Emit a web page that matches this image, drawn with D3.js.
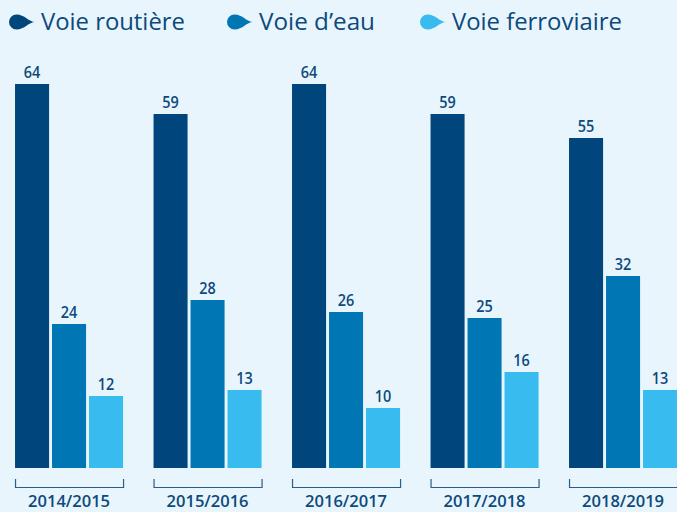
<!DOCTYPE html>
<html><head><meta charset="utf-8">
<script src="https://cdn.jsdelivr.net/npm/d3@7"></script>
<style>
html,body{margin:0;padding:0;background:#e8f5fd;}
svg{display:block;}
</style></head>
<body><svg id="c" width="677" height="512"></svg>
<script>
const years = ["2014/2015","2015/2016","2016/2017","2017/2018","2018/2019"];
const series = ["Voie routière","Voie d’eau","Voie ferroviaire"];
const routiere = [64,59,64,59,55];
const eau = [24,28,26,25,32];
const ferroviaire = [12,13,10,16,13];
const colors = ["#00457c","#0076b5","#38bcef"];
const values = [routiere, eau, ferroviaire];

const svg = d3.select("#c");
svg.append("rect").attr("width",677).attr("height",512).attr("fill","#e8f5fd");

const x0 = d3.scaleBand().domain(years).range([-0.2, 692.3]).paddingInner(0.22).paddingOuter(0.11);
const x1 = d3.scaleBand().domain(series).range([0, x0.bandwidth()]).paddingInner(0.08);
const y = d3.scaleLinear().domain([0,64]).range([468,84]);
const textCol = "#0d4a7b";

const g = svg.append("g");
years.forEach((yr,i)=>{
  const gg = g.append("g").attr("transform",`translate(${x0(yr)},0)`);
  series.forEach((s,j)=>{
    const v = values[j][i];
    gg.append("rect").attr("x",x1(s)).attr("y",y(v)).attr("width",x1.bandwidth())
      .attr("height",y(0)-y(v)).attr("fill",colors[j]);
    gg.append("text")
      .attr("transform",`translate(${x1(s)+x1.bandwidth()/2},${y(v)-6}) scale(0.85,1)`)
      .attr("text-anchor","middle").attr("fill",textCol)
      .attr("font-family","'Open Sans',sans-serif")
      .attr("font-weight","600").attr("font-size",17).text(v);
  });
  const w = x0.bandwidth();
  gg.append("path").attr("d",`M0.5,479 V487.5 H${w+0.5} V479`).attr("fill","none")
    .attr("stroke","#2b5d8c").attr("stroke-width",1.2);
  gg.append("text").attr("x",w/2).attr("y",507).attr("text-anchor","middle")
    .attr("fill",textCol).attr("font-family","'Open Sans',sans-serif").attr("font-weight","600")
    .attr("font-size",16.5).text(yr);
});

// legend
const legX = [9, 227, 420];
const legTextW = [144, 116, 170];
series.forEach((s,j)=>{
  const lx = legX[j];
  const cx = lx+7.5, cy = 22, r = 7.5;
  const tip = lx+26;
  svg.append("path").attr("d",
    `M${tip},${cy} C${tip-6},${cy} ${cx+8},${cy+r} ${cx},${cy+r} A${r},${r} 0 1 1 ${cx},${cy-r} C${cx+8},${cy-r} ${tip-6},${cy} ${tip},${cy} Z`)
    .attr("fill",colors[j]);
  const t = svg.append("text").attr("x",lx+32).attr("y",30).attr("fill",textCol)
    .attr("font-family","'Open Sans',sans-serif").attr("font-size",22).text(s);
  const len = t.node().getComputedTextLength();
  t.attr("font-size", Math.min(25, 22*legTextW[j]/len));
});
</script></body></html>
